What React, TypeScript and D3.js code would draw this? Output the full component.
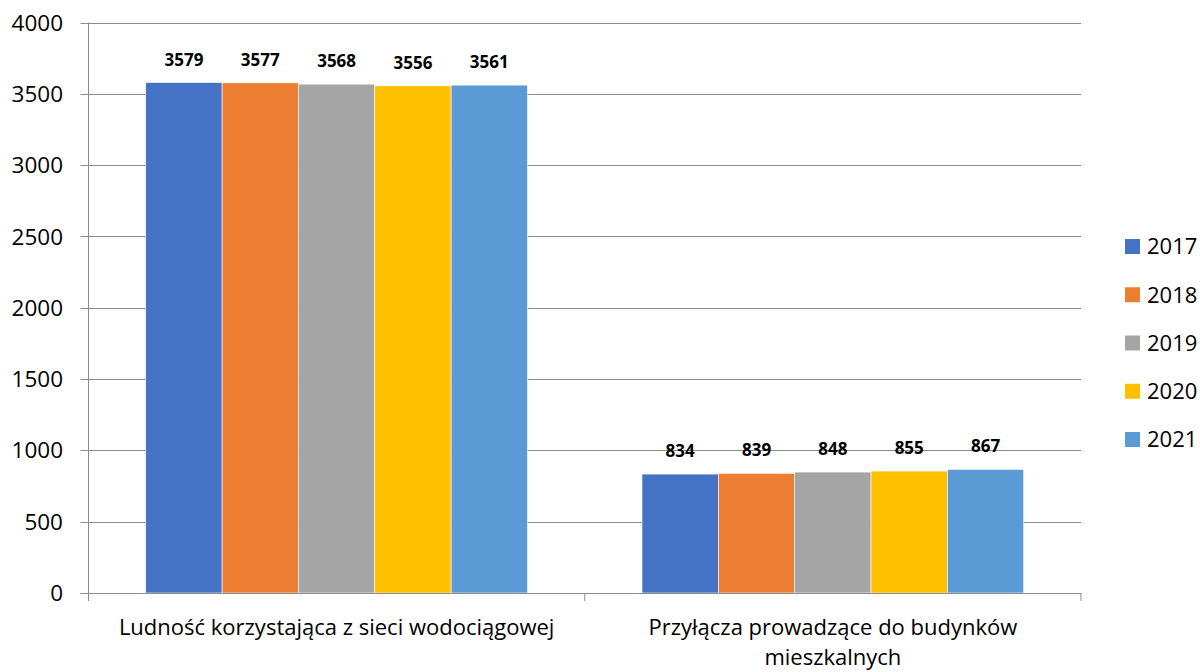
import React, { useEffect, useRef } from "react";
import * as d3 from "d3";

// kategorie i serie
const categories = [
  ["Ludność korzystająca z sieci wodociągowej"],
  ["Przyłącza prowadzące do budynków", "mieszkalnych"],
];
const years = ["2017", "2018", "2019", "2020", "2021"];
const colors = ["#4472C4", "#ED7D31", "#A5A5A5", "#FFC000", "#5B9BD5"];
const ludnosc = [3579, 3577, 3568, 3556, 3561];
const przylacza = [834, 839, 848, 855, 867];
const yTicks = [0, 500, 1000, 1500, 2000, 2500, 3000, 3500, 4000];

const FONT = "'Open Sans', sans-serif";

const App = () => {
  const svgRef = useRef<SVGSVGElement>(null);

  useEffect(() => {
    const svg = d3.select(svgRef.current);
    svg.selectAll("*").remove();

    const left = 88.5;
    const right = 1081;
    const top = 22.5;
    const bottom = 593;

    const y = d3.scaleLinear().domain([0, 4000]).range([bottom, top]);
    const x0 = d3
      .scaleBand<number>()
      .domain(categories.map((_, i) => i))
      .range([left, right]);
    const x1 = d3
      .scaleBand<string>()
      .domain(years)
      .range([0, x0.bandwidth()])
      .paddingInner(0)
      .paddingOuter(0.75);

    const series = [ludnosc, przylacza];

    // siatka
    svg
      .append("g")
      .selectAll("line")
      .data(yTicks)
      .enter()
      .append("line")
      .attr("x1", left - 8)
      .attr("x2", right)
      .attr("y1", (d) => Math.round(y(d)) + 0.5)
      .attr("y2", (d) => Math.round(y(d)) + 0.5)
      .attr("stroke", "#8c8c8c")
      .attr("stroke-width", 1);

    // etykiety osi Y
    svg
      .append("g")
      .selectAll("text")
      .data(yTicks)
      .enter()
      .append("text")
      .attr("x", 63)
      .attr("y", (d) => y(d))
      .attr("dy", "0.36em")
      .attr("text-anchor", "end")
      .attr("font-family", FONT)
      .attr("font-size", 22.5)
      .attr("fill", "#000")
      .text((d) => d);

    // słupki
    const groups = svg
      .append("g")
      .selectAll("g")
      .data(series)
      .enter()
      .append("g")
      .attr("transform", (_, i) => `translate(${x0(i)},0)`);

    groups
      .selectAll("rect")
      .data((d) => d)
      .enter()
      .append("rect")
      .attr("x", (_, j) => x1(years[j])!)
      .attr("y", (d) => y(d))
      .attr("width", x1.bandwidth())
      .attr("height", (d) => bottom - y(d))
      .attr("fill", (_, j) => colors[j])
      .attr("stroke", "#ffffff")
      .attr("stroke-width", 0.6);

    groups
      .selectAll("text")
      .data((d) => d)
      .enter()
      .append("text")
      .attr("x", (_, j) => x1(years[j])! + x1.bandwidth() / 2)
      .attr("y", (d) => y(d) - 17)
      .attr("text-anchor", "middle")
      .attr("font-family", FONT)
      .attr("font-size", 17)
      .attr("font-weight", "bold")
      .attr("fill", "#000")
      .text((d) => d);

    // osie
    svg
      .append("line")
      .attr("x1", left)
      .attr("x2", left)
      .attr("y1", top)
      .attr("y2", bottom + 8)
      .attr("stroke", "#8c8c8c");
    svg
      .append("line")
      .attr("x1", left - 8)
      .attr("x2", right)
      .attr("y1", bottom + 0.5)
      .attr("y2", bottom + 0.5)
      .attr("stroke", "#8c8c8c");
    svg
      .append("g")
      .selectAll("line")
      .data([left, x0(1)!, right])
      .enter()
      .append("line")
      .attr("x1", (d) => d)
      .attr("x2", (d) => d)
      .attr("y1", bottom)
      .attr("y2", bottom + 8)
      .attr("stroke", "#8c8c8c");

    // etykiety kategorii
    categories.forEach((lines, i) => {
      lines.forEach((line, k) => {
        svg
          .append("text")
          .attr("x", x0(i)! + x0.bandwidth() / 2)
          .attr("y", 635 + k * 30)
          .attr("text-anchor", "middle")
          .attr("font-family", FONT)
          .attr("font-size", 22)
          .attr("fill", "#000")
          .text(line);
      });
    });

    // legenda
    const legend = svg
      .append("g")
      .selectAll("g")
      .data(years)
      .enter()
      .append("g")
      .attr("transform", (_, i) => `translate(1125,${239 + i * 48.25})`);
    legend
      .append("rect")
      .attr("width", 15)
      .attr("height", 15)
      .attr("fill", (_, i) => colors[i]);
    legend
      .append("text")
      .attr("x", 22)
      .attr("y", 7.5)
      .attr("dy", "0.36em")
      .attr("font-family", FONT)
      .attr("font-size", 22)
      .attr("fill", "#000")
      .text((d) => d);
  }, []);

  return (
    <svg
      ref={svgRef}
      width={1200}
      height={672}
      style={{ position: "absolute", left: 0, top: 0, background: "#fff" }}
    ></svg>
  );
};

export default App;
